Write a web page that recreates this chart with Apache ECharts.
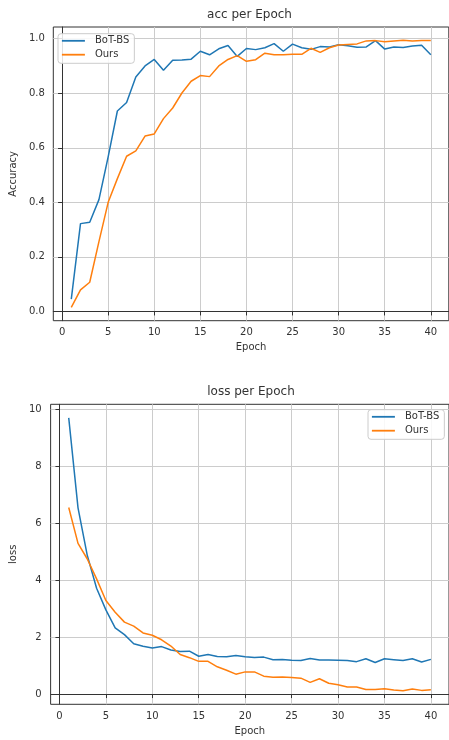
<!DOCTYPE html>
<html>
<head>
<meta charset="utf-8">
<script src="https://cdn.jsdelivr.net/npm/echarts@6/dist/echarts.min.js"></script>
<style>
html,body{margin:0;padding:0;background:#fff;}
#chart{width:449px;height:740px;}
</style>
</head>
<body>
<div id="chart"></div>
<script>
const epochs = [1,2,3,4,5,6,7,8,9,10,11,12,13,14,15,16,17,18,19,20,21,22,23,24,25,26,27,28,29,30,31,32,33,34,35,36,37,38,39,40];
const accBot = [0.045,0.322,0.327,0.410,0.567,0.735,0.766,0.860,0.900,0.924,0.884,0.921,0.922,0.925,0.954,0.941,0.963,0.975,0.935,0.964,0.960,0.967,0.982,0.954,0.980,0.967,0.961,0.971,0.970,0.978,0.974,0.969,0.970,0.993,0.962,0.970,0.968,0.973,0.976,0.941];
const accOurs = [0.015,0.079,0.107,0.256,0.400,0.487,0.569,0.589,0.643,0.651,0.707,0.746,0.801,0.844,0.865,0.861,0.900,0.924,0.938,0.917,0.923,0.947,0.941,0.941,0.943,0.943,0.965,0.950,0.967,0.977,0.979,0.981,0.992,0.993,0.989,0.992,0.994,0.992,0.993,0.993];
const lossBot = [9.71,6.55,4.87,3.72,2.96,2.33,2.09,1.77,1.68,1.62,1.67,1.55,1.50,1.51,1.33,1.39,1.32,1.31,1.36,1.31,1.29,1.30,1.21,1.22,1.19,1.18,1.25,1.20,1.20,1.19,1.18,1.14,1.24,1.11,1.24,1.21,1.18,1.24,1.13,1.22];
const lossOurs = [6.56,5.30,4.75,4.05,3.29,2.88,2.53,2.39,2.15,2.07,1.91,1.69,1.39,1.28,1.15,1.15,0.96,0.84,0.70,0.78,0.78,0.63,0.59,0.60,0.58,0.56,0.41,0.54,0.38,0.33,0.25,0.25,0.16,0.16,0.19,0.14,0.12,0.18,0.13,0.15];
const xTicks = [0,5,10,15,20,25,30,35,40];
const accTicks = [0.0,0.2,0.4,0.6,0.8,1.0];
const lossTicks = [0,2,4,6,8,10];
const seriesNames = ['BoT-BS','Ours'];
const titles = ['acc per Epoch','loss per Epoch'];
const yNames = ['Accuracy','loss'];
const xName = 'Epoch';

const FONT = 'DejaVu Sans';
const TXT = '#333';
const BLUE = '#1f77b4', ORANGE = '#ff7f0e';

function pad(arrs){
  let lo = Infinity, hi = -Infinity;
  arrs.forEach(a => a.forEach(v => { lo = Math.min(lo, v); hi = Math.max(hi, v); }));
  const m = (hi - lo) * 0.05;
  return [lo - m, hi + m];
}
const xr = pad([epochs]);
const accR = pad([accBot, accOurs]);
const lossR = pad([lossBot, lossOurs]);
const pairs = (ys) => epochs.map((e, i) => [e, ys[i]]);

function xAxis(gi){
  return {
    type:'value', gridIndex:gi, min:xr[0], max:xr[1],
    name:xName, nameLocation:'middle', nameGap:22,
    nameTextStyle:{fontFamily:FONT,fontSize:10,color:TXT},
    axisLine:{show:true,lineStyle:{color:'#333',width:1}},
    axisTick:{show:true,length:4,lineStyle:{color:'#333'},customValues:xTicks},
    axisLabel:{fontFamily:FONT,fontSize:10,color:TXT,margin:7,customValues:xTicks},
    splitLine:{show:true,lineStyle:{color:'#cccccc',width:1}}
  };
}
function yAxis(gi, r, ticks, fmt, gap, nameGap){
  return {
    type:'value', gridIndex:gi, min:r[0], max:r[1],
    name:yNames[gi], nameLocation:'middle', nameGap:nameGap,
    nameTextStyle:{fontFamily:FONT,fontSize:10,color:TXT},
    axisLine:{show:true,lineStyle:{color:'#333',width:1}},
    axisTick:{show:true,length:4,lineStyle:{color:'#333'},customValues:ticks},
    axisLabel:{fontFamily:FONT,fontSize:10,color:TXT,margin:gap,customValues:ticks,formatter:fmt},
    splitLine:{show:true,lineStyle:{color:'#cccccc',width:1}}
  };
}
function line(name, color, gi, ys){
  return {
    type:'line', name:name, xAxisIndex:gi, yAxisIndex:gi,
    data:pairs(ys), symbol:'none', showSymbol:false,
    lineStyle:{color:color,width:1.5}, itemStyle:{color:color},
    animation:false, z:3
  };
}
function legend(left, top){
  return {
    data:seriesNames, orient:'vertical', left:left, top:top,
    itemWidth:23, itemHeight:14, itemGap:2.7,
    padding:[1.5,5,3,3],
    borderColor:'#cccccc', borderWidth:1, borderRadius:3,
    backgroundColor:'rgba(255,255,255,0.85)',
    itemStyle:{opacity:0},
    lineStyle:{width:1.8},
    textStyle:{fontFamily:FONT,fontSize:10,color:TXT,padding:[0,0,0,5]},
    selectedMode:false
  };
}

const chart = echarts.init(document.getElementById('chart'), null, {renderer:'canvas'});
chart.setOption({
  animation:false,
  backgroundColor:'#fff',
  grid:[
    {left:52, top:27, width:396.8, height:293.7, show:true, borderColor:'#333', borderWidth:1, backgroundColor:'transparent'},
    {left:49.3, top:404.3, width:404.2, height:300, show:true, borderColor:'#333', borderWidth:1, backgroundColor:'transparent'}
  ],
  xAxis:[xAxis(0), xAxis(1)],
  yAxis:[
    yAxis(0, accR, accTicks, v => v.toFixed(1), 8.5, 31),
    yAxis(1, lossR, lossTicks, v => String(Math.round(v)), 9, 28)
  ],
  legend:[legend(58, 33.7), legend(368, 409.7)],
  graphic:[
    {type:'text', x:249.5, y:15, style:{text:titles[0], font:'12px "DejaVu Sans"', fill:TXT, textAlign:'center', textVerticalAlign:'middle'}},
    {type:'text', x:251, y:391.7, style:{text:titles[1], font:'12px "DejaVu Sans"', fill:TXT, textAlign:'center', textVerticalAlign:'middle'}}
  ],
  series:[
    line(seriesNames[0], BLUE, 0, accBot),
    line(seriesNames[1], ORANGE, 0, accOurs),
    line(seriesNames[0], BLUE, 1, lossBot),
    line(seriesNames[1], ORANGE, 1, lossOurs)
  ]
});
</script>
</body>
</html>
